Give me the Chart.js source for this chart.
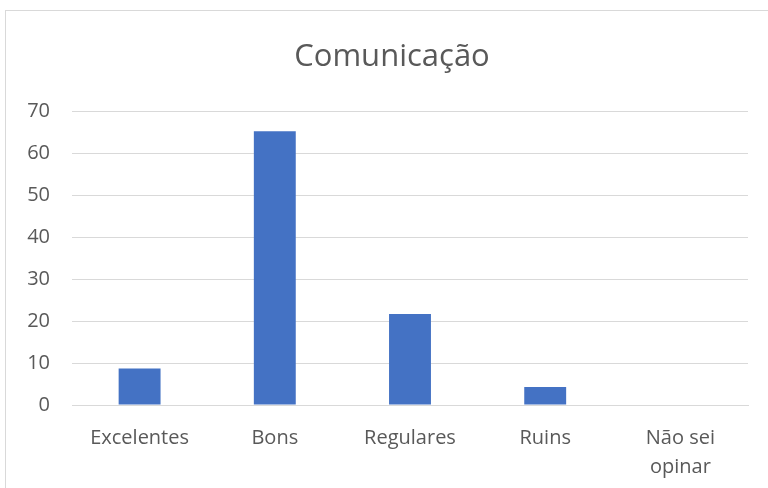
<!DOCTYPE html>
<html>
<head>
<meta charset="utf-8">
<script src="https://cdn.jsdelivr.net/npm/chart.js@4.4.0/dist/chart.umd.min.js"></script>
<style>
  html, body { margin:0; padding:0; background:#fff; overflow:hidden; }
  #frame { position:absolute; left:5px; top:10px; width:800px; height:520px; border:1px solid #d9d9d9; }
  #wrap { position:absolute; left:0; top:0; width:784px; height:488px; }
</style>
</head>
<body>
<div id="frame"></div>
<!-- canvas a bit wider than the window so the title centres on the frame -->
<div id="wrap"><canvas id="myChart" width="784" height="488"></canvas></div>
<script>
// categorias e valores
const labels = ['Excelentes', 'Bons', 'Regulares', 'Ruins', ['Não sei', 'opinar']];
const values = [8.7, 65.2, 21.7, 4.3, 0];
const yTicks = [0, 10, 20, 30, 40, 50, 60, 70];

const gray = '#595959';
const font = "'Open Sans', sans-serif";

const data = {
  labels: labels,
  datasets: [{
    label: 'Comunicação',
    backgroundColor: '#4472c4',
    data: values,
    categoryPercentage: 1,
    barPercentage: 0.31
  }]
};

const config = {
  type: 'bar',
  data: data,
  options: {
    responsive: false,
    animation: false,
    layout: { padding: 0 },
    plugins: {
      legend: { display: false },
      tooltip: { enabled: false },
      title: {
        display: true,
        text: 'Comunicação',
        color: gray,
        font: { family: font, size: 31, weight: 'normal' },
        padding: { top: 39, bottom: 35 }
      }
    },
    scales: {
      x: {
        grid: { display: false, drawTicks: false },
        border: { color: '#d9d9d9' },
        ticks: {
          color: gray,
          font: { family: font, size: 20, lineHeight: 1.45 },
          padding: 19,
          maxRotation: 0,
          autoSkip: false
        },
        afterFit: (s) => { s.height = 83; }
      },
      y: {
        min: 0,
        max: 70,
        afterBuildTicks: (s) => { s.ticks = yTicks.map(v => ({ value: v })); },
        grid: { color: '#d9d9d9', drawTicks: false },
        border: { display: false },
        ticks: {
          color: gray,
          font: { family: font, size: 20 },
          padding: 22
        },
        afterFit: (s) => { s.width = 72; }
      },
      // empty right axis, only reserves space on the right
      spacer: {
        type: 'linear',
        position: 'right',
        grid: { display: false, drawTicks: false },
        border: { display: false },
        ticks: { display: false },
        afterFit: (s) => { s.width = 36; }
      }
    }
  }
};

const myChart = new Chart(document.getElementById('myChart'), config);
</script>
</body>
</html>
